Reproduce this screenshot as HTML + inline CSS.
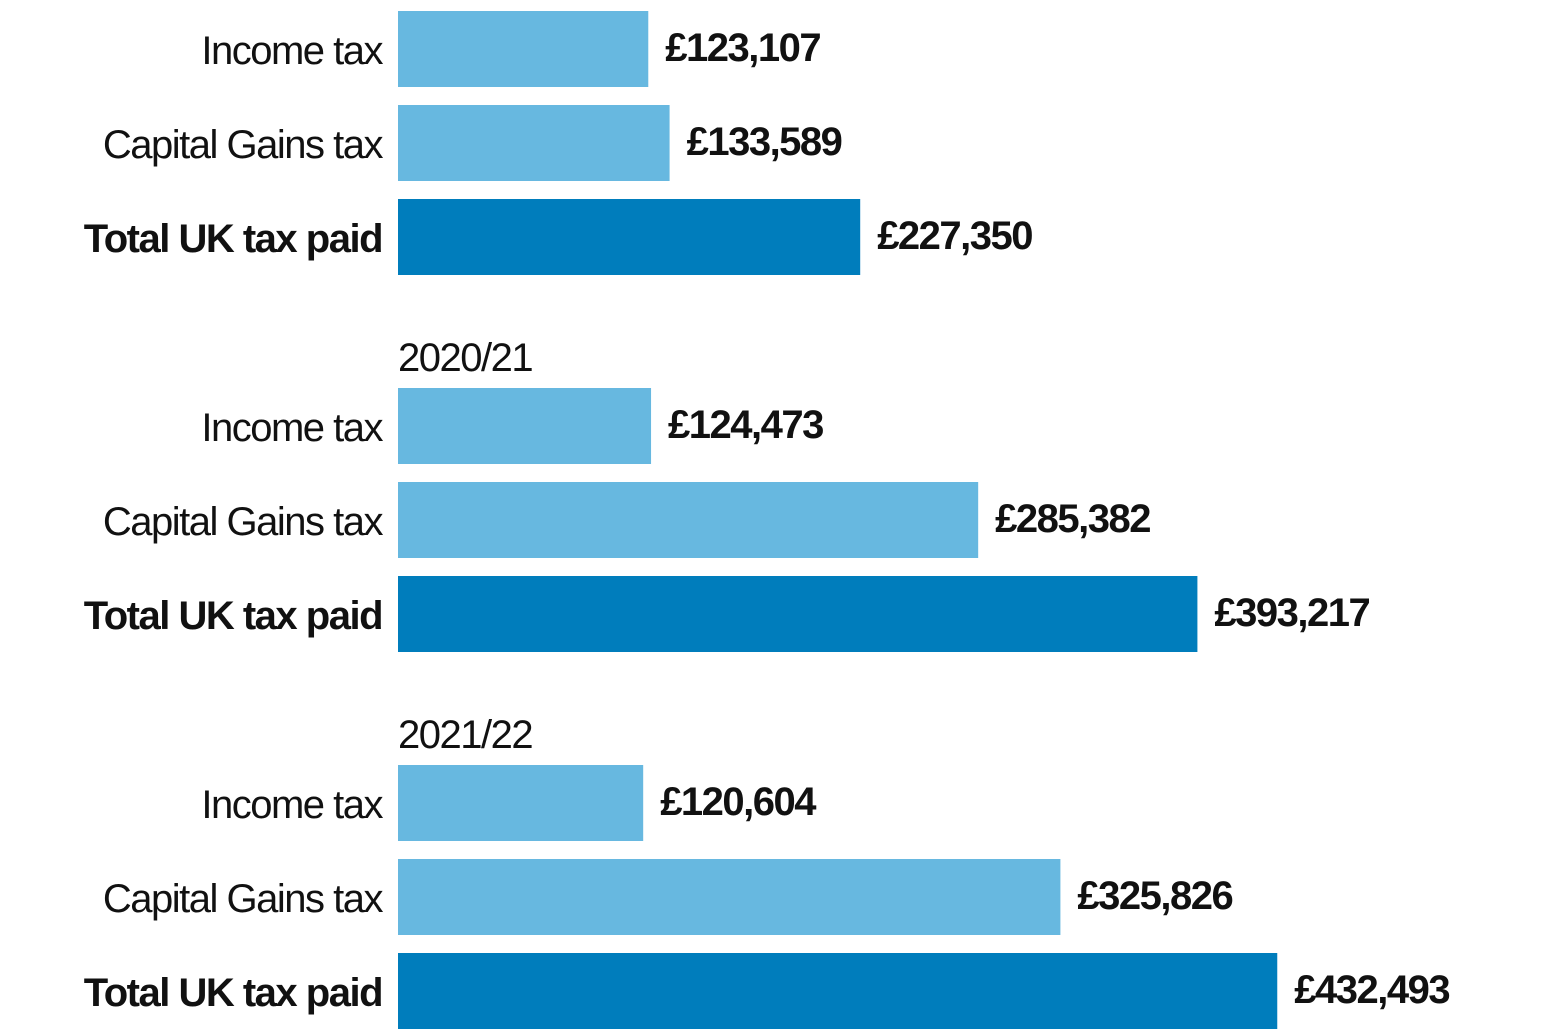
<!DOCTYPE html>
<html><head><meta charset="utf-8"><style>
html,body{margin:0;padding:0;background:#fff;}
svg{display:block;font-family:"Liberation Sans",Arial,sans-serif;}
</style></head><body>
<svg id="chart" width="1548" height="1032" viewBox="0 0 1548 1032"></svg>
<script>
const years = ["2019/20", "2020/21", "2021/22"];
const categories = ["Income tax", "Capital Gains tax", "Total UK tax paid"];
const incomeTax = [123107, 124473, 120604];
const capitalGainsTax = [133589, 285382, 325826];
const totalTax = [227350, 393217, 432493];
const valueLabels = [["£123,107","£133,589","£227,350"],["£124,473","£285,382","£393,217"],["£120,604","£325,826","£432,493"]];

const svg = document.getElementById('chart');
const NS = 'http://www.w3.org/2000/svg';
const x0 = 398, scale = 0.002033;
const xScale = v => v * scale;
const groupTop = [11, 388, 765];
const barH = 76, pitch = 94;
const series = [incomeTax, capitalGainsTax, totalTax];
const colors = ["#67b8e0", "#67b8e0", "#007dbc"];

function mk(tag, attrs) {
  const el = document.createElementNS(NS, tag);
  for (const k in attrs) el.setAttribute(k, attrs[k]);
  svg.appendChild(el);
  return el;
}

years.forEach((yr, g) => {
  if (g > 0) {
    const t = mk('text', {x: x0, y: groupTop[g] - 17, 'font-size': 40, fill: '#111', 'letter-spacing': -1.5});
    
    
    t.textContent = yr;
  }
  categories.forEach((cat, i) => {
    const y = groupTop[g] + i * pitch;
    const bold = i === 2;
    const lab = mk('text', {x: 382, y: y + barH/2 + 15, 'font-size': 40, 'text-anchor': 'end', fill: '#111', 'font-weight': bold ? 'bold' : 'normal', 'letter-spacing': -1.5});
    
    
    lab.textContent = cat;
    const w = xScale(series[i][g]);
    const r = mk('rect', {x: x0, y: y, width: w, height: barH, fill: colors[i]});
    
    
    const v = mk('text', {x: x0 + w + 17, y: y + barH/2 + 12, 'font-size': 40, 'font-weight': 'bold', fill: '#111', 'letter-spacing': -1.5});
    
    
    v.textContent = valueLabels[g][i];
  });
});
</script>
</body></html>
